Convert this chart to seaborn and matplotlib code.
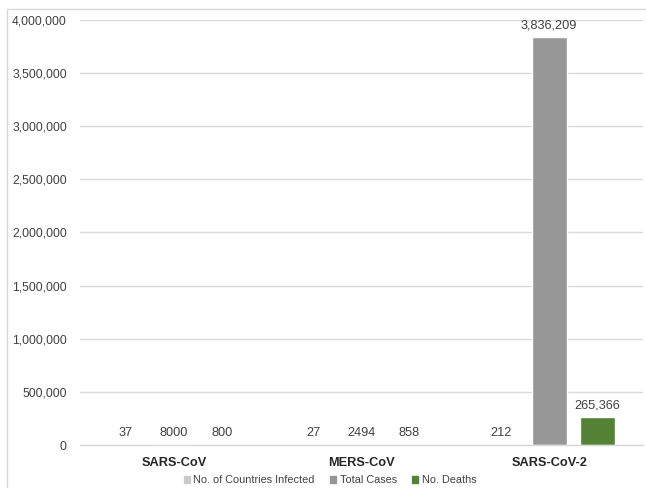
import matplotlib
matplotlib.use("Agg")
import matplotlib.pyplot as plt
import matplotlib.patches as mpatches
import seaborn as sns
import pandas as pd

# Outbreak comparison data
viruses = ["SARS-CoV", "MERS-CoV", "SARS-CoV-2"]
series_names = ["No. of Countries Infected", "Total Cases", "No. Deaths"]
countries_infected = [37, 27, 212]
total_cases = [8000, 2494, 3836209]
deaths = [800, 858, 265366]
y_ticks = [0, 500000, 1000000, 1500000, 2000000, 2500000, 3000000, 3500000, 4000000]
colors = ["#c9c9c9", "#979797", "#548235"]

rows = []
for name, vals in zip(series_names, [countries_infected, total_cases, deaths]):
    for v, val in zip(viruses, vals):
        rows.append({"Virus": v, "Series": name, "Value": val})
df = pd.DataFrame(rows)

sns.set_theme(style="white")
plt.rcParams["font.family"] = ["Liberation Sans", "DejaVu Sans"]

fig = plt.figure(figsize=(6.46, 4.88), dpi=100)
ax = fig.add_axes([80 / 646, 1 - 445 / 488, 563 / 646, 425 / 488])

sns.barplot(data=df, x="Virus", y="Value", hue="Series", order=viruses,
            hue_order=series_names, palette=colors, width=0.767, gap=0.27,
            saturation=1, legend=False, ax=ax)


def fmt(v):
    return f"{v:,.0f}" if v >= 100000 else f"{v:.0f}"


for cont, vals in zip(ax.containers, [countries_infected, total_cases, deaths]):
    ax.bar_label(cont, labels=[fmt(v) for v in vals], padding=4,
                 fontsize=9.2, color="#404040")

ax.set_ylim(0, 4000000)
ax.set_yticks(y_ticks)
ax.set_yticklabels([f"{t:,}" for t in y_ticks])
ax.yaxis.grid(True, color="#d9d9d9", linewidth=1)
ax.set_axisbelow(True)
for s in ["top", "right", "left"]:
    ax.spines[s].set_visible(False)
ax.spines["bottom"].set_color("#d9d9d9")
ax.spines["bottom"].set_linewidth(1)
ax.tick_params(axis="y", length=0, pad=9.5, labelsize=8.7, labelcolor="#404040")
ax.tick_params(axis="x", length=0, pad=9, labelsize=9.2)
for lbl in ax.get_xticklabels():
    lbl.set_fontweight("bold")
    lbl.set_color("#262626")
ax.set_xlabel("")
ax.set_ylabel("")

handles = [mpatches.Patch(color=c, label=n) for c, n in zip(colors, series_names)]
fig.legend(handles=handles, loc="center", bbox_to_anchor=(330 / 646, 1 - 480 / 488),
           ncol=3, frameon=False, fontsize=7.8, handlelength=0.6, handleheight=0.6,
           handletextpad=0.3, columnspacing=1.4, labelcolor="#404040")

# light outer frame
fig.patches.append(mpatches.Rectangle((7 / 646, -0.05), 1.0, 1 - 9 / 488 + 0.05,
                                      transform=fig.transFigure, fill=False,
                                      edgecolor="#d9d9d9", linewidth=1))

fig.savefig("out.png", dpi=100)
